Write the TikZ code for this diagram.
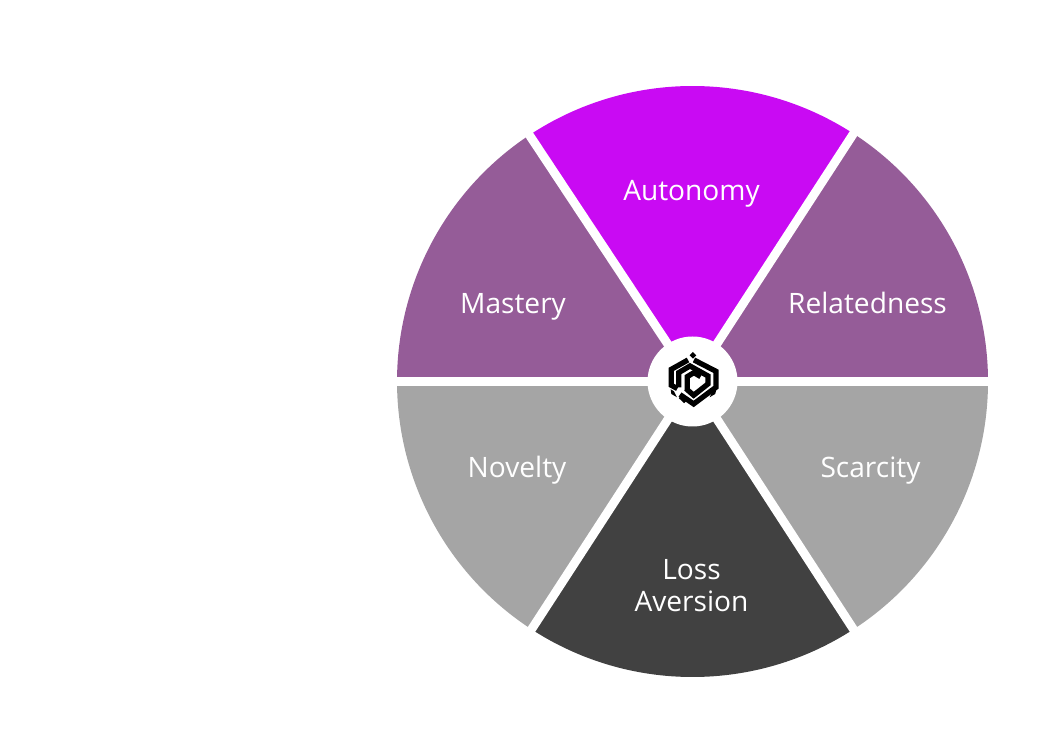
\documentclass[tikz,border=0pt]{standalone}
\usepackage{fontspec}
\setmainfont{Open Sans}
\definecolor{wheelPink}{HTML}{C90AF3}
\definecolor{wheelPurple}{HTML}{955C98}
\definecolor{wheelGray}{HTML}{A5A5A5}
\definecolor{wheelDark}{HTML}{414141}
\tikzset{
  wedgelabel/.style={text=white,font=\fontsize{8}{9.1}\selectfont,align=center},
  gapline/.style={white,line width=2.5pt},
  logoline/.style={black,line width=1.5pt,line join=miter}
}
\begin{document}
\begin{tikzpicture}[x=0.1mm,y=-0.1mm]
  \useasboundingbox (0,0) rectangle (1054,731);

  \begin{scope}[shift={(692.5,381.5)}]
    % Wedges, angles grow clockwise here
    \foreach \from/\to/\col in {-123.5/-57/wheelPink, -57/0/wheelPurple, -180/-123.5/wheelPurple,
      0/57/wheelGray, 123/180/wheelGray, 57/123/wheelDark}
      \fill[\col] (0,0) -- (\from:295.5) arc[start angle=\from,end angle=\to,radius=295.5] -- cycle;

    % White gaps between the wedges
    \coordinate (hub) at (0,0);
    \foreach \ang/\name in {0/east, 57/southeast, 123/southwest, 180/west, -123.5/northwest, -57/northeast} {
      \coordinate (\name) at (\ang:300);
      \draw[gapline] (hub) -- (\name);
    }
    \fill[white] (hub) circle[radius=45];
  \end{scope}

  % Labels
  \node[wedgelabel,anchor=base] (autonomy) at (691.5,201) {Autonomy};
  \node[wedgelabel,anchor=base] (mastery) at (513,314) {Mastery};
  \node[wedgelabel,anchor=base] (relatedness) at (867.5,314) {Relatedness};
  \node[wedgelabel,anchor=base] (novelty) at (517,478) {Novelty};
  \node[wedgelabel,anchor=base] (scarcity) at (870.5,478) {Scarcity};
  \node[wedgelabel] (loss) at (691.5,586) {Loss\\Aversion};

  % Logo
  \begin{scope}[shift={(662,348)},x=0.0333mm,y=-0.0333mm]
    \fill (93,12) -- (103,22) -- (93,32) -- (83,22) -- cycle;
    \fill (26,124) -- (36,130) -- (45,148) -- (28,138) -- cycle;
    \fill (163,124) -- (152,130) -- (143,148) -- (160,138) -- cycle;
    \draw[logoline] (78,36) -- (28,64) -- (28,112) -- (46,122);
    \draw[logoline] (96,36) -- (162,70) -- (162,118) -- (95,168) -- (54,140);
    \draw[logoline] (50,118) -- (50,74) -- (84,54) -- (138,84) -- (138,108) -- (95,142) -- (72,122);
    \draw[logoline] (56,145) -- (72,160);
    \draw[logoline] (76,128) -- (76,86) -- (96,74) -- (116,86);
  \end{scope}
\end{tikzpicture}
\end{document}
